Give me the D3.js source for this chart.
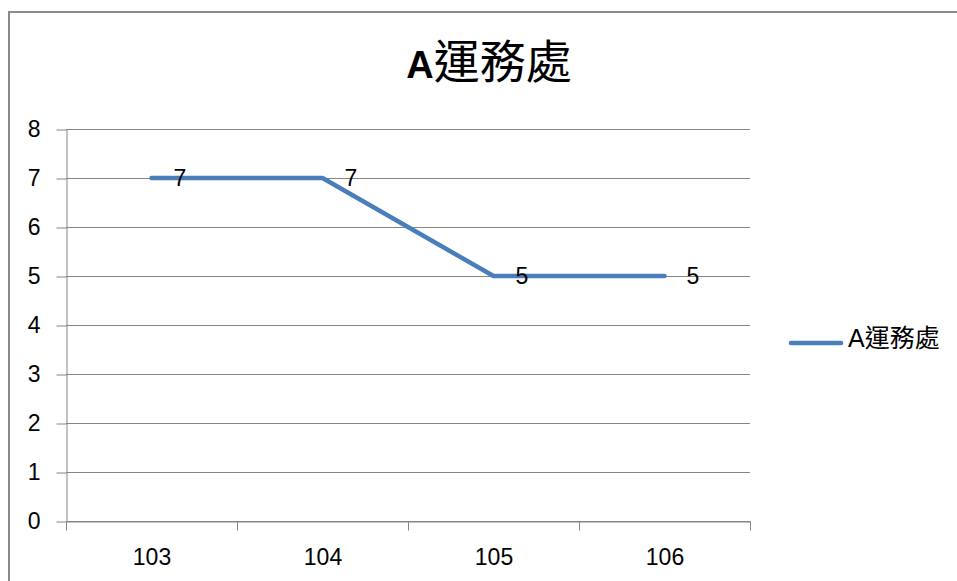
<!DOCTYPE html>
<html>
<head>
<meta charset="utf-8">
<script src="https://cdn.jsdelivr.net/npm/d3@7"></script>
<style>
  html, body { margin: 0; padding: 0; background: #fff; }
  svg { display: block; }
  text { font-family: "Liberation Sans", "Noto Sans CJK TC", sans-serif; fill: #000; }
</style>
</head>
<body>
<svg id="chart" width="957" height="581"></svg>
<script>
// Chart data
const titleLatin = "A";
const titleCjk = "運務處";
const seriesName = "A運務處";
const years = ["103", "104", "105", "106"];
const values = [7, 7, 5, 5];
const yTicks = [0, 1, 2, 3, 4, 5, 6, 7, 8];

const W = 957, H = 581;
const plot = { left: 66, right: 750, top: 129, bottom: 521 };
const lineColor = "#4a7ebb";
const gridColor = "#868686";
const labelFont = 23;

const svg = d3.select("#chart");

// Chart area frame
svg.append("path")
  .attr("d", `M9,${H + 5} V12 H${W + 5}`)
  .attr("fill", "none")
  .attr("stroke", "#8a8a8a")
  .attr("stroke-width", 2);

const x = d3.scaleBand().domain(years).range([plot.left, plot.right]).paddingInner(0).paddingOuter(0);
const y = d3.scaleLinear().domain([0, 8]).range([plot.bottom, plot.top]);

// Horizontal gridlines
svg.append("g")
  .selectAll("line")
  .data(yTicks)
  .join("line")
  .attr("x1", plot.left)
  .attr("x2", plot.right)
  .attr("y1", d => Math.round(y(d)) + 0.5)
  .attr("y2", d => Math.round(y(d)) + 0.5)
  .attr("stroke", gridColor)
  .attr("stroke-width", 1);

// Y axis
const yAxis = svg.append("g")
  .attr("transform", `translate(${plot.left + 0.5},0.5)`)
  .call(d3.axisLeft(y).tickValues(yTicks).tickFormat(d3.format("d")).tickSizeInner(10).tickSizeOuter(0).tickPadding(16));
yAxis.select(".domain").attr("stroke", gridColor);
yAxis.selectAll(".tick line").attr("stroke", gridColor);
yAxis.selectAll(".tick text")
  .attr("font-size", labelFont)
  .attr("font-family", "Liberation Sans, sans-serif")
  .attr("fill", "#000");

// X axis with ticks at category boundaries
const xAxis = svg.append("g")
  .attr("transform", `translate(0.5,${plot.bottom + 0.5})`)
  .call(d3.axisBottom(x).tickSize(0));
xAxis.select(".domain").attr("stroke", gridColor);
xAxis.selectAll(".tick text")
  .attr("y", 35)
  .attr("dy", "0.36em")
  .attr("font-size", labelFont)
  .attr("font-family", "Liberation Sans, sans-serif")
  .attr("fill", "#000");
const boundaries = years.map(d => x(d)).concat([x(years[years.length - 1]) + x.bandwidth()]);
xAxis.append("g")
  .selectAll("line")
  .data(boundaries)
  .join("line")
  .attr("x1", d => Math.round(d))
  .attr("x2", d => Math.round(d))
  .attr("y1", 0)
  .attr("y2", 9)
  .attr("stroke", gridColor);

// Series line
const cx = d => x(d) + x.bandwidth() / 2;
const line = d3.line().x((d, i) => cx(years[i])).y(d => y(d));
svg.append("path")
  .datum(values)
  .attr("d", line)
  .attr("fill", "none")
  .attr("stroke", lineColor)
  .attr("stroke-width", 4.5)
  .attr("stroke-linecap", "round")
  .attr("stroke-linejoin", "round");

// Data labels to the right of each point
svg.append("g")
  .selectAll("text")
  .data(values)
  .join("text")
  .attr("x", (d, i) => cx(years[i]) + 22)
  .attr("y", d => y(d))
  .attr("dy", "0.36em")
  .attr("font-size", labelFont)
  .text(d => d);

// Title: bold Latin letter followed by regular CJK characters
const titleText = svg.append("text")
  .attr("x", 489)
  .attr("y", 78)
  .attr("text-anchor", "middle");
titleText.append("tspan")
  .attr("font-size", 38)
  .attr("font-weight", "bold")
  .text(titleLatin);
titleText.append("tspan")
  .attr("font-size", 46)
  .attr("font-family", "Noto Sans CJK TC, sans-serif")
  .text(titleCjk);

// Legend
svg.append("line")
  .attr("x1", 791).attr("x2", 841)
  .attr("y1", 343).attr("y2", 343)
  .attr("stroke", lineColor)
  .attr("stroke-width", 4.5)
  .attr("stroke-linecap", "round");
svg.append("text")
  .attr("x", 848)
  .attr("y", 338)
  .attr("dy", "0.36em")
  .attr("font-size", 25)
  .text(seriesName);
</script>
</body>
</html>
